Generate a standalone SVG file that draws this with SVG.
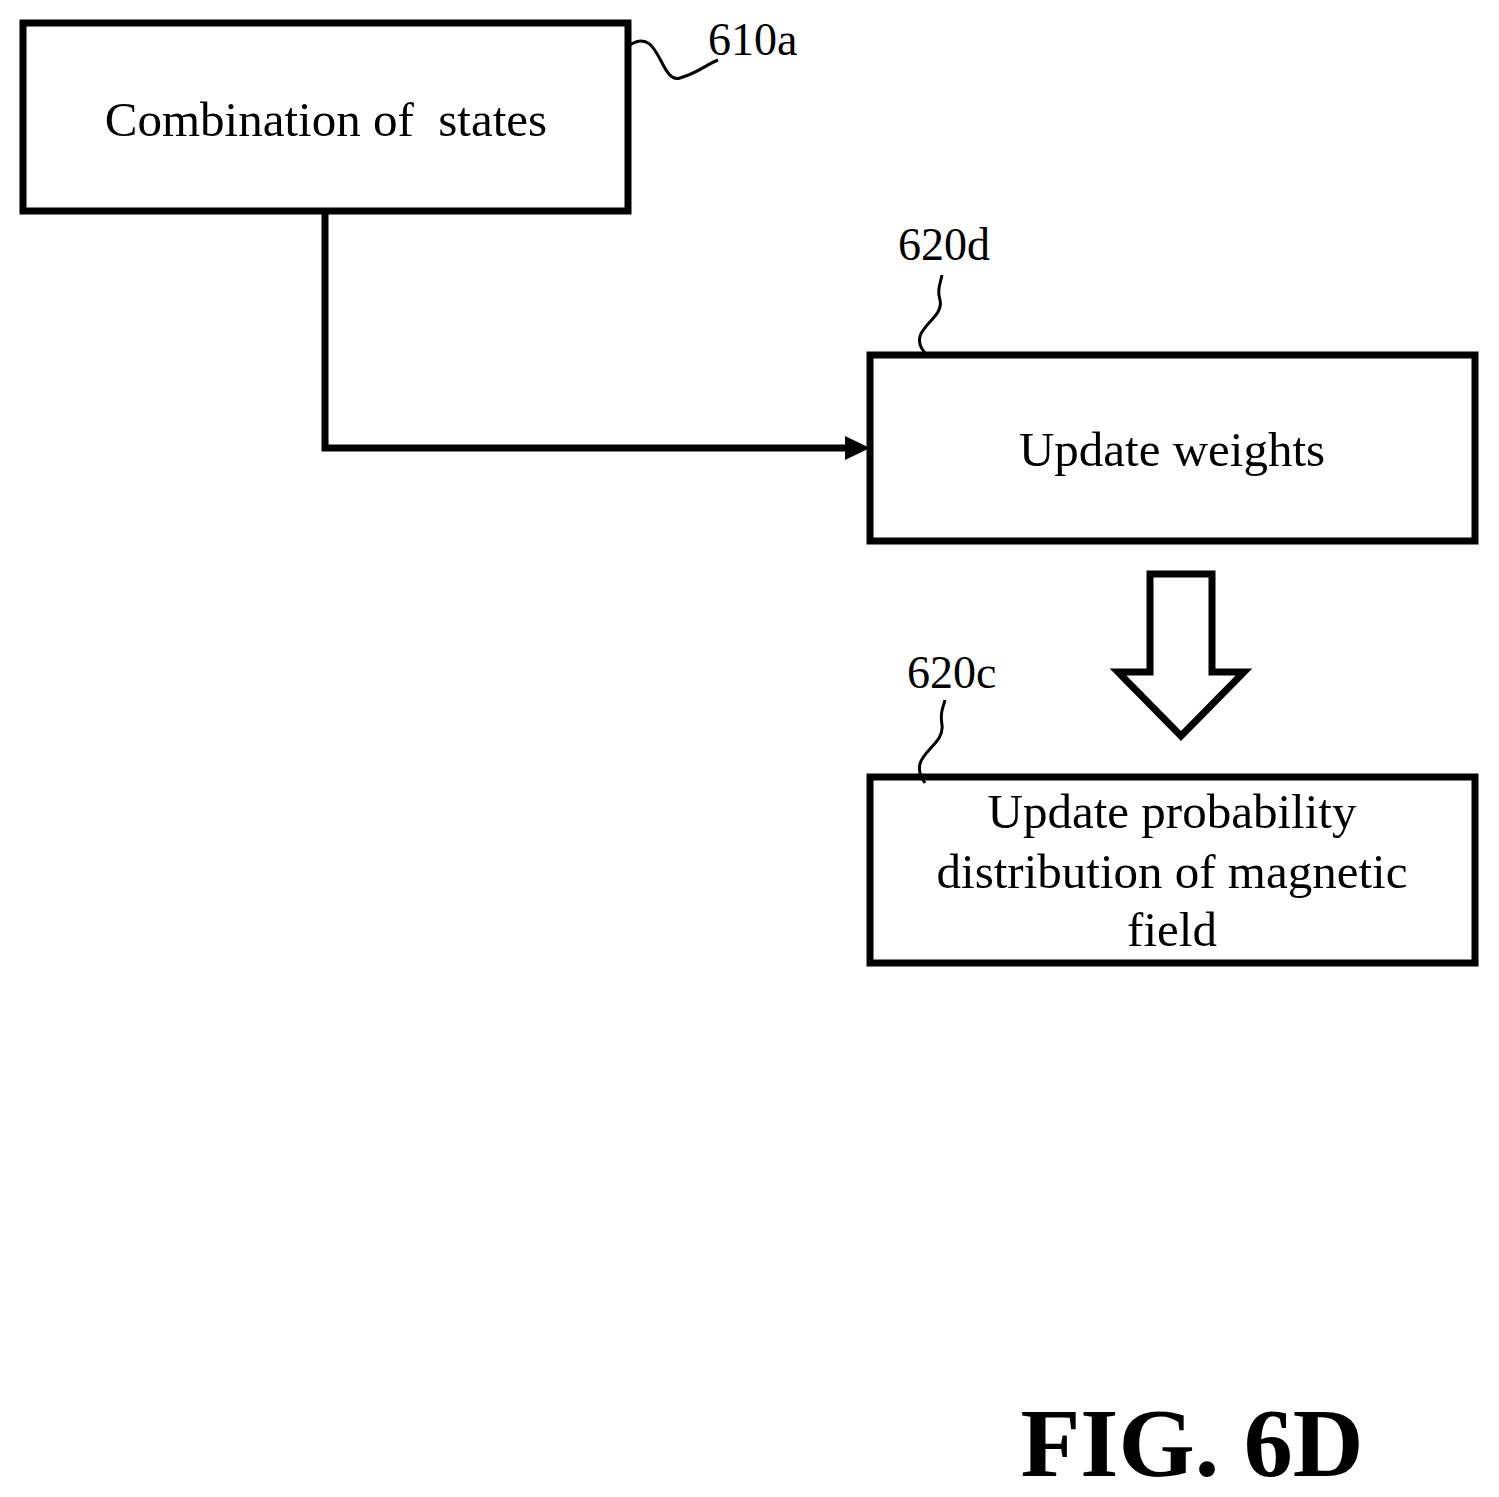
<svg xmlns="http://www.w3.org/2000/svg" width="1499" height="1497" viewBox="0 0 1499 1497">
<style>
.box{fill:#fff;stroke:#000;stroke-width:7}
.t{font-family:"Liberation Serif",serif;font-size:49px;text-anchor:middle}
.lbl{font-family:"Liberation Serif",serif;font-size:46px}
.ld{fill:none;stroke:#000;stroke-width:3}
</style>
<rect width="1499" height="1497" fill="#fff"/>
<g id="connectors">
<path d="M325,213V448H845" fill="none" stroke="#000" stroke-width="7"/>
<path d="M845,436L870,448L845,460z"/>
<path d="M1150,574H1212V672H1244L1181,736L1118,672H1150Z" fill="#fff" stroke="#000" stroke-width="7"/>
</g>
<g id="n610a"><rect class="box" x="23" y="23" width="605" height="188"/><text class="t" x="326" y="136" xml:space="preserve">Combination of  states</text>
<path class="ld" d="M630,45C660,25 660,85 680,78C700,72 705,65 718,60"/><text class="lbl" x="708" y="55">610a</text></g>
<g id="n620d"><rect class="box" x="870" y="355" width="605" height="186"/><text class="t" x="1172" y="466">Update weights</text>
<path class="ld" d="M925,353C905,330 945,320 940,300C937,290 940,285 942,275"/><text class="lbl" x="898" y="260">620d</text></g>
<g id="n620c"><rect class="box" x="870" y="777" width="605" height="186"/><text class="t" x="1172" y="828">Update probability</text><text class="t" x="1172" y="888">distribution of magnetic</text><text class="t" x="1172" y="946">field</text>
<path class="ld" d="M925,783C905,755 945,748 942,725C940,712 943,708 945,700"/><text class="lbl" x="907" y="688">620c</text></g>
<text x="1192" y="1476" font-family="Liberation Serif,serif" font-size="98" font-weight="bold" text-anchor="middle">FIG. 6D</text>
</svg>
